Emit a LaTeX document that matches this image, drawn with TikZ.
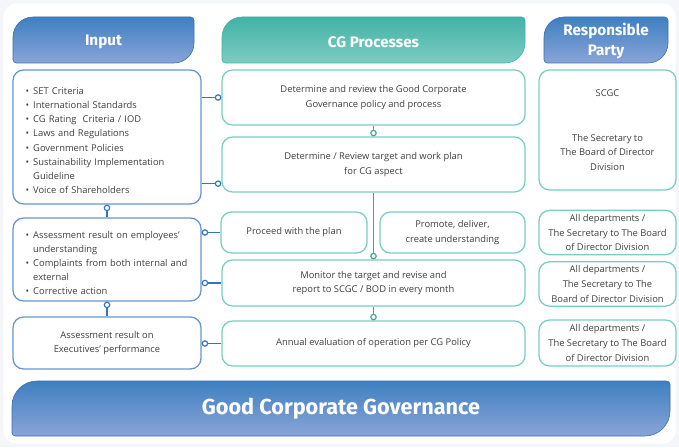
\documentclass[tikz,border=0pt]{standalone}
\usepackage{fontspec}
\setmainfont{Open Sans}
\newfontfamily\hdfont{Fira Sans}
\usetikzlibrary{arrows.meta}
\definecolor{pagebg}{RGB}{244, 246, 249}
\definecolor{hdbluetop}{RGB}{62, 128, 192}
\definecolor{hdbluebot}{RGB}{138, 164, 216}
\definecolor{hdblueedge}{RGB}{58, 112, 178}
\definecolor{hdtealtop}{RGB}{66, 178, 166}
\definecolor{hdtealbot}{RGB}{126, 204, 194}
\definecolor{inblue}{RGB}{100, 148, 212}
\definecolor{cgteal}{RGB}{120, 206, 196}
\definecolor{linkblue}{RGB}{52, 116, 190}
\definecolor{linkteal}{RGB}{58, 168, 156}
\definecolor{txtgray}{RGB}{64, 64, 64}
% header tab: big radius #5 at top left and bottom right
\newcommand{\leafpath}[5]{(#1,#2+0.1) -- (#1,#4-#5) arc[start angle=180, end angle=90, radius=#5]
  -- (#3-0.1,#4) arc[start angle=90, end angle=0, radius=0.1]
  -- (#3,#2+#5) arc[start angle=0, end angle=-90, radius=#5]
  -- (#1+0.1,#2) arc[start angle=270, end angle=180, radius=0.1] -- cycle}
\newenvironment{cglist}{\begin{list}{\textbullet}{\setlength{\leftmargin}{8pt}\setlength{\labelsep}{3.5pt}%
  \setlength{\labelwidth}{4.5pt}\setlength{\itemsep}{0pt}\setlength{\topsep}{0pt}%
  \setlength{\partopsep}{0pt}\setlength{\parsep}{0pt}}}{\end{list}}
\tikzset{
  hdblue/.style   = {top color=hdbluetop, bottom color=hdbluebot, draw=hdblueedge, line width=0.5pt},
  hdteal/.style   = {top color=hdtealtop, bottom color=hdtealbot, draw=hdtealtop, line width=0.5pt},
  hdtext/.style   = {white, align=center, font=\hdfont\bfseries\fontsize{13}{17}\selectfont},
  bigtext/.style  = {white, font=\hdfont\bfseries\fontsize{18.5}{22}\selectfont},
  inbox/.style    = {rectangle, rounded corners=9pt, draw=inblue, line width=1.1pt, fill=white, text=txtgray,
                     align=center, font=\fontsize{8}{12.5}\selectfont},
  inlist/.style   = {inbox, align=left, text width=142pt, inner xsep=9pt, font=\fontsize{8}{12}\selectfont},
  cgbox/.style    = {rectangle, rounded corners=9pt, draw=cgteal, line width=1.1pt, fill=white, text=txtgray,
                     align=center, font=\fontsize{8}{12.5}\selectfont},
  linkin/.style   = {-{Circle[open, length=5.6pt, line width=1pt]}, line width=1.1pt, linkblue},
  linkcg/.style   = {-{Circle[open, length=5.6pt, line width=1pt]}, line width=1.1pt, linkteal},
}

\begin{document}
\begin{tikzpicture}
  \fill[pagebg] (0,0) rectangle (20.37,13.41);
  \fill[white, rounded corners=0.4cm] (0.1,0.1) rectangle (20.27,13.31);

  % column headers
  \path[hdblue] \leafpath{0.39}{11.52}{5.82}{12.9}{0.6};
  \path[hdteal] \leafpath{6.66}{11.52}{15.75}{12.9}{0.6};
  \path[hdblue] \leafpath{16.32}{11.52}{20.04}{12.9}{0.6};
  \node[hdtext] (hin) at (3.105,12.15) {Input};
  \node[hdtext] (hcg) at (11.205,12.15) {CG Processes};
  \node[hdtext] (hparty) at (18.18,12.17) {Responsible\\Party};

  % input column
  \node[inlist, minimum width=5.64cm, minimum height=4.02cm] (in1) at (3.21,9.3) {%
    \begin{cglist}
      \item SET Criteria
      \item International Standards
      \item CG Rating~ Criteria / IOD
      \item Laws and Regulations
      \item Government Policies
      \item Sustainability Implementation\newline Guideline
      \item Voice of Shareholders
    \end{cglist}};
  \node[inlist, minimum width=5.64cm, minimum height=2.49cm] (in2) at (3.21,5.625) {%
    \begin{cglist}
      \item Assessment result on employees'\newline understanding
      \item Complaints from both internal and\newline external
      \item Corrective action
    \end{cglist}};
  \node[inbox, minimum width=5.64cm, minimum height=1.56cm] (in3) at (3.21,3.12)
    {Assessment result on\\Executives' performance};

  % process column
  \node[cgbox, minimum width=9.09cm, minimum height=1.65cm] (p1) at (11.205,10.485)
    {Determine and review the Good Corporate\\Governance policy and process};
  \node[cgbox, minimum width=9.09cm, minimum height=1.65cm] (p2) at (11.205,8.475)
    {Determine / Review target and work plan\\for CG aspect};
  \node[cgbox, minimum width=4.38cm, minimum height=1.23cm] (proceed) at (8.82,6.435)
    {Proceed with the plan};
  \node[cgbox, minimum width=4.35cm, minimum height=1.23cm] (promote) at (13.575,6.435)
    {Promote, deliver,\\create understanding};
  \node[cgbox, minimum width=9.09cm, minimum height=1.38cm] (monitor) at (11.205,4.92)
    {Monitor the target and revise and\\report to SCGC / BOD in every month};
  \node[cgbox, minimum width=9.09cm, minimum height=1.35cm] (annual) at (11.205,3.105)
    {Annual evaluation of operation per CG Policy};

  % responsible party column
  \node[cgbox, minimum width=4.11cm, minimum height=3.6cm] (r1) at (18.225,9.51)
    {SCGC\\[26pt]The Secretary to\\The Board of Director\\Division};
  \node[cgbox, minimum width=4.11cm, minimum height=1.29cm] (r2) at (18.225,6.435)
    {All departments /\\The Secretary to The Board\\of Director Division};
  \node[cgbox, minimum width=4.11cm, minimum height=1.32cm] (r3) at (18.225,4.89)
    {All departments /\\The Secretary to The\\Board of Director Division};
  \node[cgbox, minimum width=4.11cm, minimum height=1.38cm] (r4) at (18.225,3.12)
    {All departments /\\The Secretary to The Board\\of Director Division};

  % links
  \coordinate (p2low) at ([yshift=0.27cm]p2.south west);
  \draw[linkin] (in1.east |- p1.west) -- (p1.west);
  \draw[linkin] (in1.east |- p2low) -- (p2low);
  \draw[linkin] (in2.north) -- (in1.south);
  \draw[linkin] (in3.north) -- (in2.south);
  \draw[linkin] (proceed.west) -- (proceed.west -| in2.east);
  \draw[linkin] (monitor.west) -- (monitor.west -| in2.east);
  \draw[linkin] (annual.west) -- (annual.west -| in3.east);
  \draw[linkcg] (p1.south) -- (p2.north);
  \draw[linkcg] (p2.south) -- (monitor.north);
  \draw[linkcg] (monitor.south) -- (annual.north);

  % bottom banner
  \path[hdblue] \leafpath{0.36}{0.33}{20.1}{1.98}{0.75};
  \node[bigtext] (cg) at (10.23,1.155) {Good Corporate Governance};
\end{tikzpicture}
\end{document}
